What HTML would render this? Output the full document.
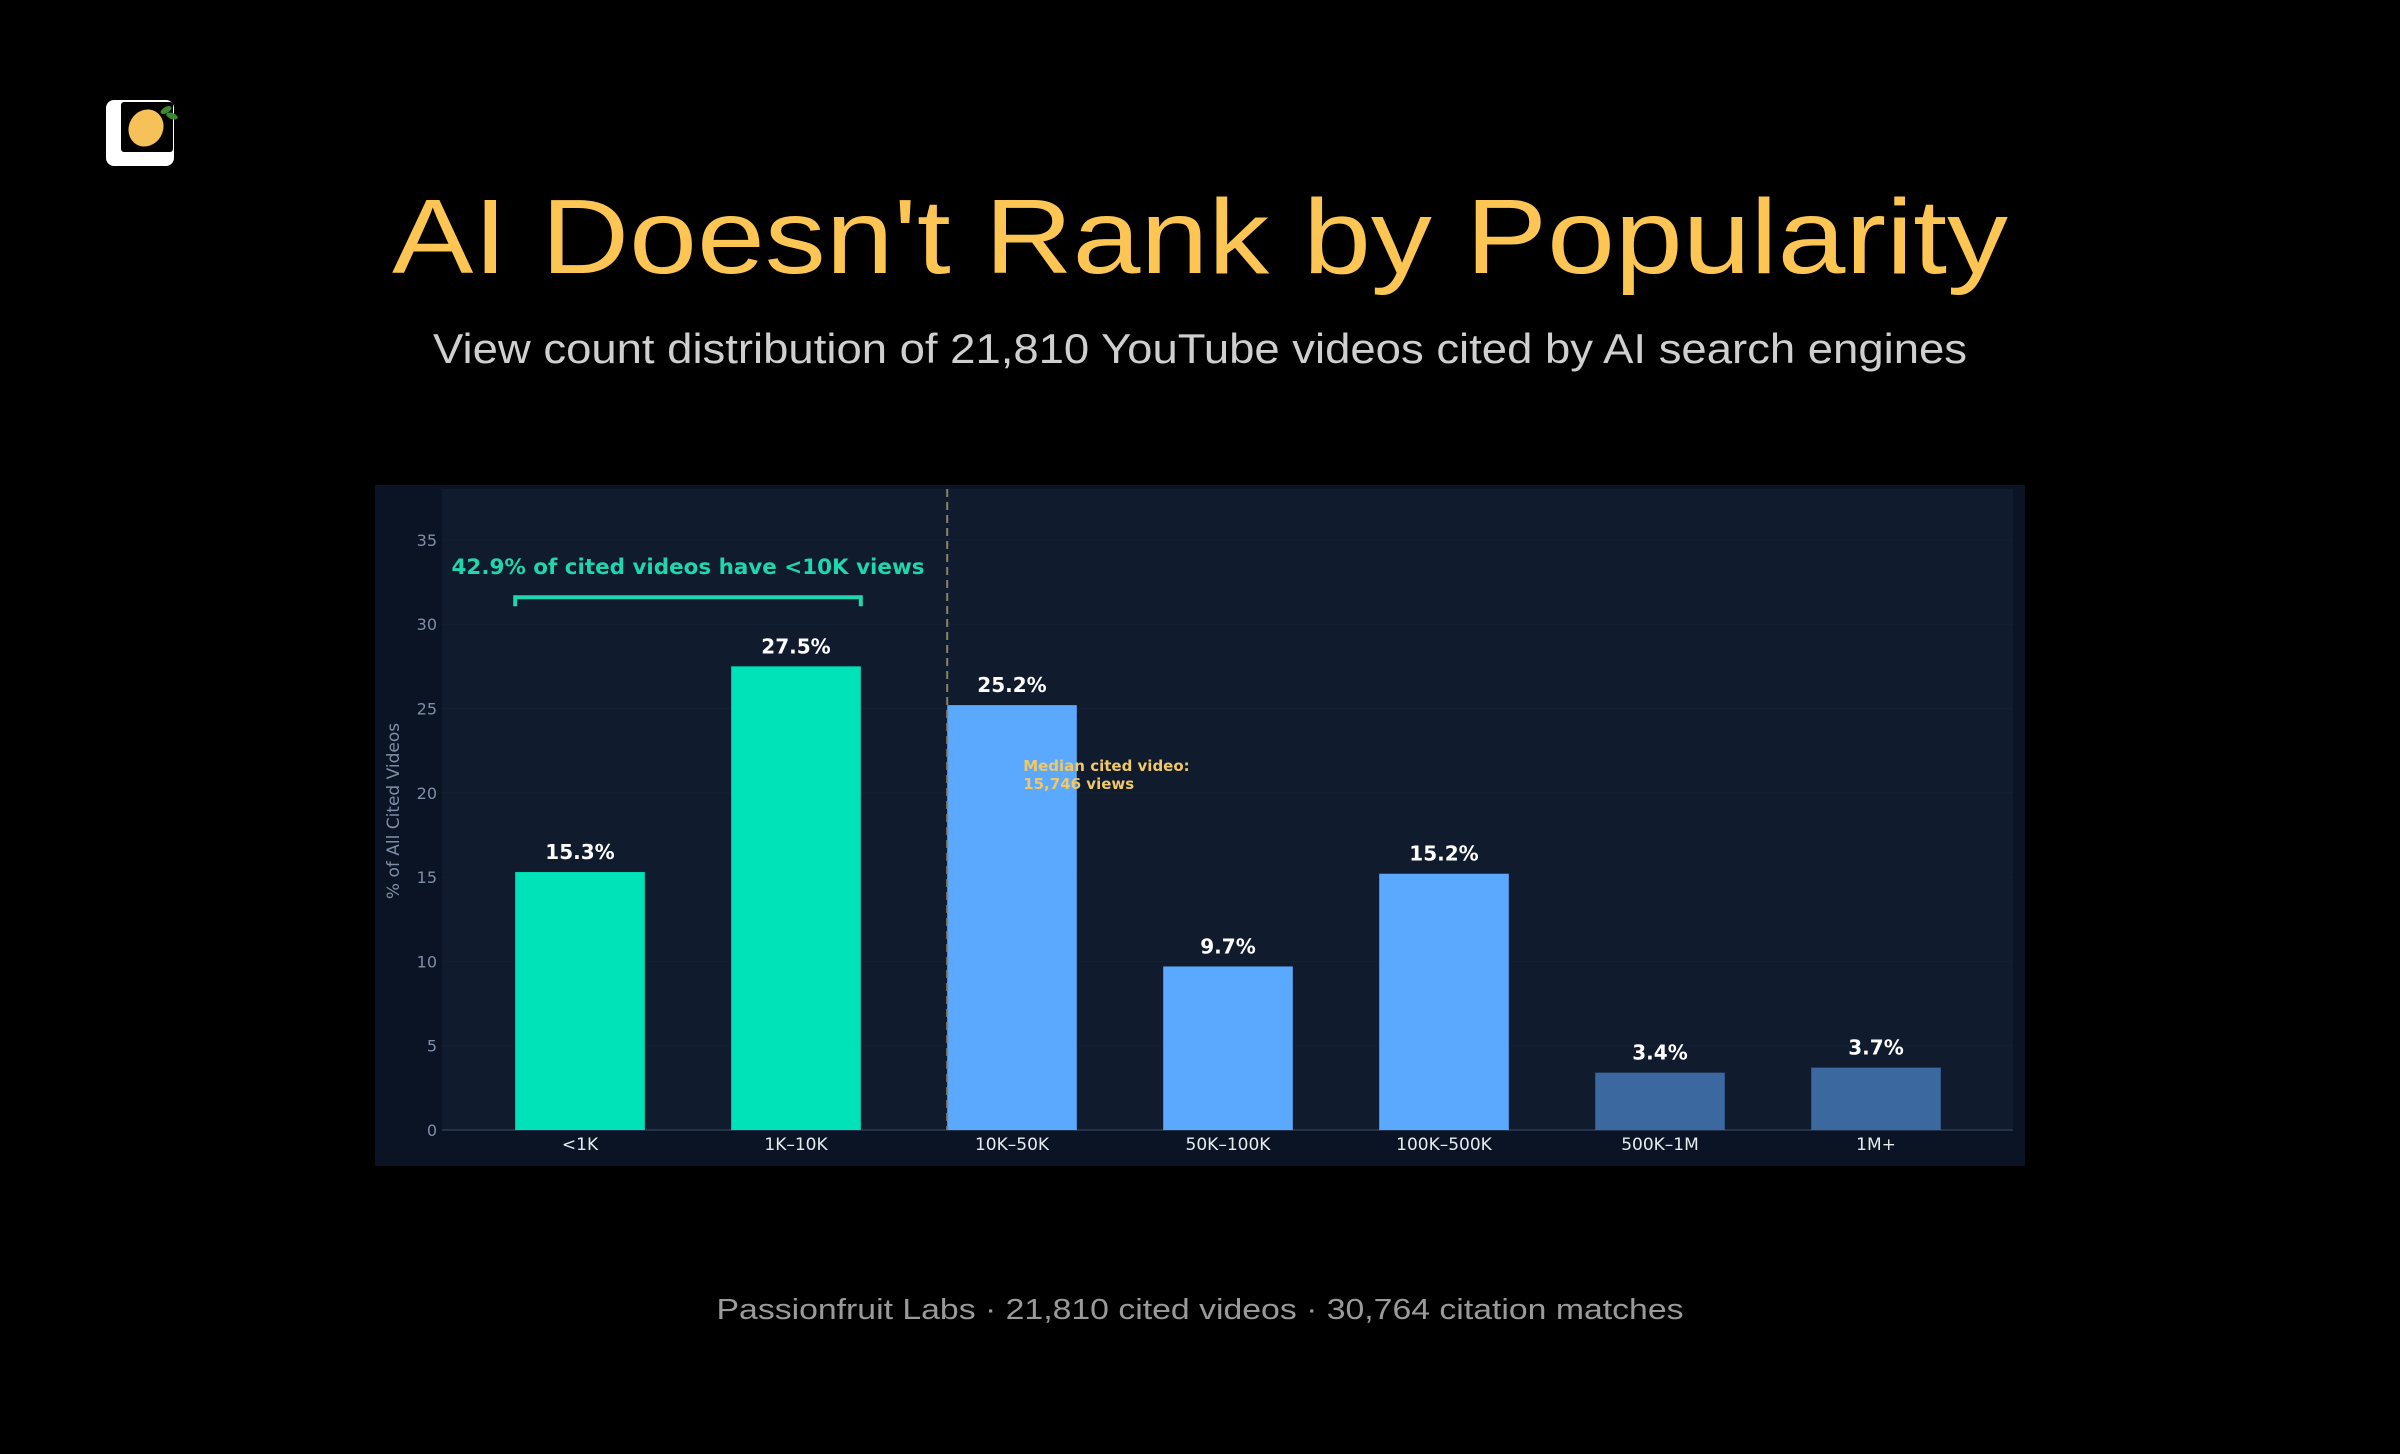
<!DOCTYPE html>
<html><head><meta charset="utf-8"><style>
html,body{margin:0;padding:0;background:#000;}
svg{display:block;}
</style></head><body>
<svg id="root" width="2400" height="1454" viewBox="0 0 2400 1454" xmlns="http://www.w3.org/2000/svg">
<rect width="2400" height="1454" fill="#000"/>
<g>
  <rect x="106" y="100" width="68" height="66" rx="8" fill="#fff"/>
  <rect x="121" y="102" width="52" height="50" rx="3" fill="#000"/>
  <ellipse cx="146" cy="128" rx="17" ry="19" transform="rotate(30 146 128)" fill="#f7c15a"/>
  <ellipse cx="166" cy="110" rx="6" ry="3" transform="rotate(-30 166 110)" fill="#3a8a2e"/>
  <ellipse cx="172" cy="116" rx="6" ry="3" transform="rotate(20 172 116)" fill="#3a8a2e"/>
</g>
<text x="1200" y="273" text-anchor="middle" font-family="Liberation Sans, sans-serif" font-size="106" fill="#fcc554" textLength="1616" lengthAdjust="spacingAndGlyphs">AI Doesn't Rank by Popularity</text>
<text x="1200" y="363" text-anchor="middle" font-family="Liberation Sans, sans-serif" font-size="42" fill="#cfcfcf" textLength="1534" lengthAdjust="spacingAndGlyphs">View count distribution of 21,810 YouTube videos cited by AI search engines</text>
<text x="1200" y="1319" text-anchor="middle" font-family="Liberation Sans, sans-serif" font-size="29" fill="#9a9a9a" textLength="967" lengthAdjust="spacingAndGlyphs">Passionfruit Labs · 21,810 cited videos · 30,764 citation matches</text>
<rect x="375" y="485" width="1650" height="681" fill="#0b1424"/>
<rect x="442" y="489" width="1571" height="641" fill="#101b2e"/>
<g id="chart"></g>
</svg>
<script>
const categories = ["<1K","1K–10K","10K–50K","50K–100K","100K–500K","500K–1M","1M+"];
const values = [15.3,27.5,25.2,9.7,15.2,3.4,3.7];
const valueLabels = ["15.3%","27.5%","25.2%","9.7%","15.2%","3.4%","3.7%"];
const barColors = ["#00e3b9","#00e3b9","#5ba9fe","#5ba9fe","#5ba9fe","#3b689e","#3b689e"];
const yTicks = [0,5,10,15,20,25,30,35];
const medianPos = 1.7;
const bracketRange = [0,1];
const bracketLevel = 31.6;

const NS = "http://www.w3.org/2000/svg";
const g = document.getElementById('chart');
const x0 = 580, step = 216, barW = 0.6*step;
const yZero = 1130, perUnit = 16.86;
const xs = i => x0 + i*step;
const ys = v => yZero - v*perUnit;
function mk(tag, attrs, text){
  const e = document.createElementNS(NS, tag);
  for (const k in attrs) e.setAttribute(k, attrs[k]);
  if (text !== undefined) e.textContent = text;
  g.appendChild(e);
  return e;
}
const font = "DejaVu Sans, sans-serif";
yTicks.forEach(t => {
  const gl = mk('line', {x1:442, x2:2013, y1:ys(t), y2:ys(t), stroke: t===0 ? '#24324a' : '#131f33', 'stroke-width': t===0 ? 2 : 1});
  
  
  const tl = mk('text', {x:437, y:ys(t)+6, 'text-anchor':'end', 'font-family':font, 'font-size':16, fill:'#7f8ea8'}, String(t));
  
  
});
const yt = mk('text', {x:0, y:0, transform:'translate(399 811) rotate(-90)', 'text-anchor':'middle', 'font-family':font, 'font-size':17, fill:'#7f8ea8'}, '% of All Cited Videos');


categories.forEach((c, i) => {
  const b = mk('rect', {x: xs(i)-barW/2, y: ys(values[i]), width: barW, height: values[i]*perUnit, fill: barColors[i]});
  
  
  const vl = mk('text', {x: xs(i), y: ys(values[i])-13, 'text-anchor':'middle', 'font-family':font, 'font-size':20, 'font-weight':'bold', fill:'#ffffff'}, valueLabels[i]);
  
  
  const xl = mk('text', {x: xs(i), y: 1150, 'text-anchor':'middle', 'font-family':font, 'font-size':17, fill:'#e6ebf2'}, c);
  
  
});
const mx = xs(medianPos);
const ml = mk('line', {x1:mx, x2:mx, y1:489, y2:1130, stroke:'#8a8268', 'stroke-width':2, 'stroke-dasharray':'8 5'});


const m1 = mk('text', {x: mx+76, y: 771, 'font-family':font, 'font-size':15, 'font-weight':'bold', fill:'#f0c865'}, 'Median cited video:');


const m2 = mk('text', {x: mx+76, y: 789, 'font-family':font, 'font-size':15, 'font-weight':'bold', fill:'#f0c865'}, '15,746 views');


const bx1 = xs(bracketRange[0]) - barW/2, bx2 = xs(bracketRange[1]) + barW/2, by = ys(bracketLevel);
const br = mk('path', {d:`M${bx1} ${by+9} V${by} H${bx2} V${by+9}`, fill:'none', stroke:'#1fd6b0', 'stroke-width':4});


const bt = mk('text', {x:(bx1+bx2)/2, y:574, 'text-anchor':'middle', 'font-family':font, 'font-size':21, 'font-weight':'bold', fill:'#1fd6b0', textLength:473, lengthAdjust:'spacingAndGlyphs'}, '42.9% of cited videos have <10K views');


</script>
</body></html>
